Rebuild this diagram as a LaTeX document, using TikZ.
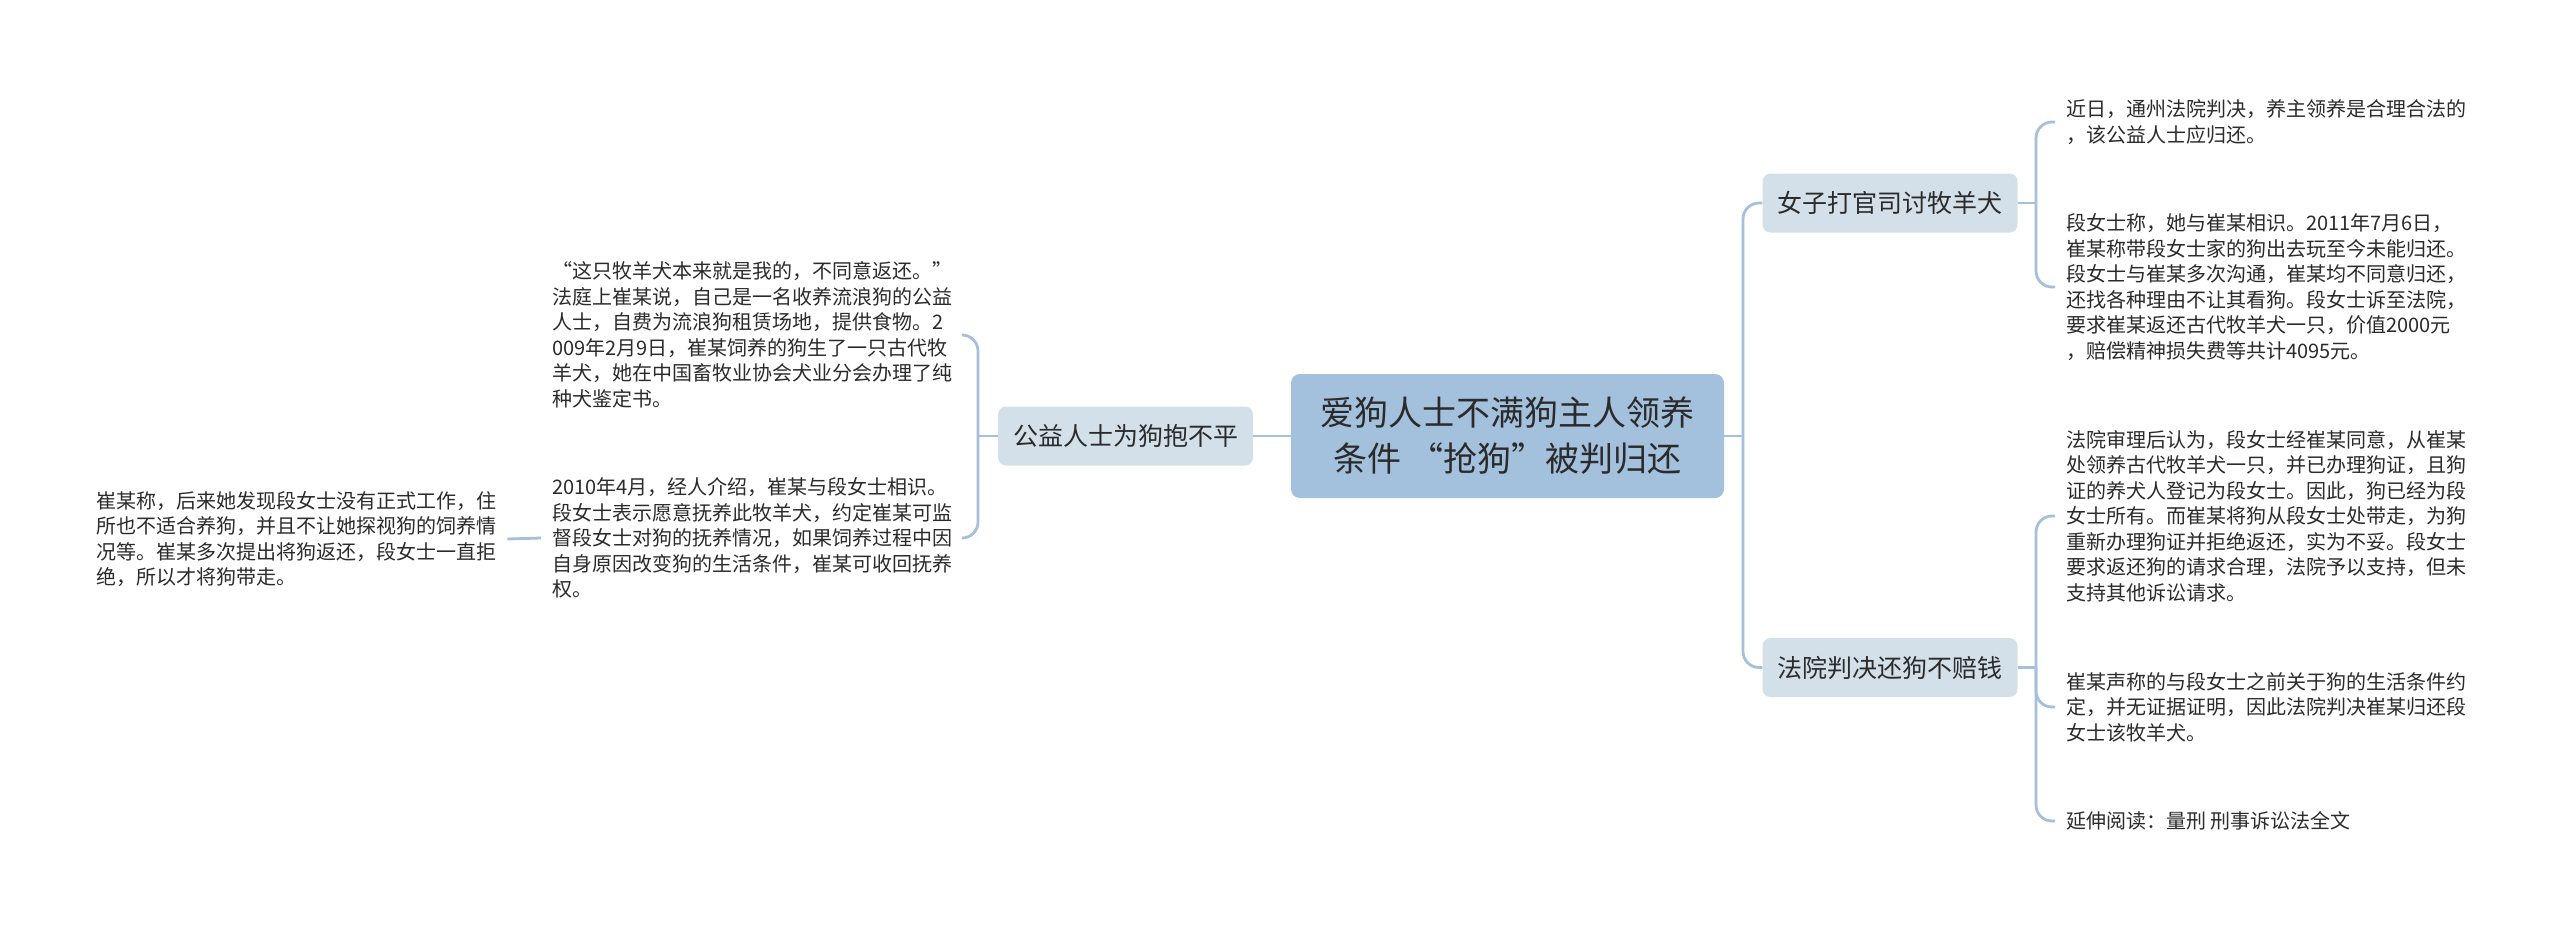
\documentclass[tikz,border=0pt]{standalone}
\usepackage{fontspec}
\setmainfont{Noto Sans CJK SC}
\definecolor{linec}{HTML}{A7C0D9}
\definecolor{rootc}{HTML}{A3C0DC}
\definecolor{subc}{HTML}{D4E0E9}
\definecolor{txtc}{HTML}{2B2B2B}
\begin{document}
\begin{tikzpicture}[x=1pt,y=-1pt,
  conn/.style={draw=linec,line width=2.8pt,rounded corners=16pt},
  rootbox/.style={fill=rootc,rounded corners=9pt,minimum width=433pt,minimum height=124pt,align=center,font=\fontsize{34}{46}\selectfont,text=txtc,inner sep=0pt},
  subbox/.style={fill=subc,rounded corners=8pt,minimum width=255pt,minimum height=59pt,font=\fontsize{25}{30}\selectfont,text=txtc,inner sep=0pt},
  leaf/.style={anchor=west,align=left,font=\fontsize{20}{25.5}\selectfont,text=txtc,inner xsep=11pt,inner ysep=0pt}]
\fill[white] (0,0) rectangle (2560,929);
\useasboundingbox (0,0) rectangle (2560,929);

% root
\node[rootbox] (root) at (1507.5,436) {爱狗人士不满狗主人领养\\条件 “抢狗”被判归还};

% level 1
\node[subbox] (L) at (1125.5,436) {公益人士为狗抱不平};
\node[subbox] (R1) at (1890,203) {女子打官司讨牧羊犬};
\node[subbox] (R2) at (1890,667.5) {法院判决还狗不赔钱};

% left leaves
\node[leaf] (c1) at (541,335) {“这只牧羊犬本来就是我的，不同意返还。”\\法庭上崔某说，自己是一名收养流浪狗的公益\\人士，自费为流浪狗租赁场地，提供食物。2\\009年2月9日，崔某饲养的狗生了一只古代牧\\羊犬，她在中国畜牧业协会犬业分会办理了纯\\种犬鉴定书。};
\node[leaf] (c2) at (541,538) {2010年4月，经人介绍，崔某与段女士相识。\\段女士表示愿意抚养此牧羊犬，约定崔某可监\\督段女士对狗的抚养情况，如果饲养过程中因\\自身原因改变狗的生活条件，崔某可收回抚养\\权。};
\node[leaf] (gc) at (85,539) {崔某称，后来她发现段女士没有正式工作，住\\所也不适合养狗，并且不让她探视狗的饲养情\\况等。崔某多次提出将狗返还，段女士一直拒\\绝，所以才将狗带走。};

% right leaves
\node[leaf] (r1a) at (2055,122) {近日，通州法院判决，养主领养是合理合法的\\，该公益人士应归还。};
\node[leaf] (r1b) at (2055,287) {段女士称，她与崔某相识。2011年7月6日，\\崔某称带段女士家的狗出去玩至今未能归还。\\段女士与崔某多次沟通，崔某均不同意归还，\\还找各种理由不让其看狗。段女士诉至法院，\\要求崔某返还古代牧羊犬一只，价值2000元\\，赔偿精神损失费等共计4095元。};
\node[leaf] (r2a) at (2055,516) {法院审理后认为，段女士经崔某同意，从崔某\\处领养古代牧羊犬一只，并已办理狗证，且狗\\证的养犬人登记为段女士。因此，狗已经为段\\女士所有。而崔某将狗从段女士处带走，为狗\\重新办理狗证并拒绝返还，实为不妥。段女士\\要求返还狗的请求合理，法院予以支持，但未\\支持其他诉讼请求。};
\node[leaf] (r2b) at (2055,707) {崔某声称的与段女士之前关于狗的生活条件约\\定，并无证据证明，因此法院判决崔某归还段\\女士该牧羊犬。};
\node[leaf] (r2c) at (2055,821) {延伸阅读：量刑 刑事诉讼法全文};

% junctions
\coordinate (jL) at (978,436);
\coordinate (jR) at (1743,436);
\coordinate (jR1) at (2036,203);
\coordinate (jR2) at (2036,667.5);

% connectors
\draw[conn] (root.west) -- (L.east);
\draw[conn] (L.west) -- (jL);
\draw[conn] (jL) |- (c1.east);
\draw[conn] (jL) |- (c2.east);
\draw[conn] (c2.west) -- (gc.east);

\draw[conn] (root.east) -- (jR);
\draw[conn] (jR) |- (R1.west);
\draw[conn] (jR) |- (R2.west);

\draw[conn] (R1.east) -- (jR1);
\draw[conn] (jR1) |- (r1a.west);
\draw[conn] (jR1) |- (r1b.west);

\draw[conn] (R2.east) -- (jR2);
\draw[conn] (jR2) |- (r2a.west);
\draw[conn] (jR2) |- (r2b.west);
\draw[conn] (jR2) |- (r2c.west);
\end{tikzpicture}
\end{document}
